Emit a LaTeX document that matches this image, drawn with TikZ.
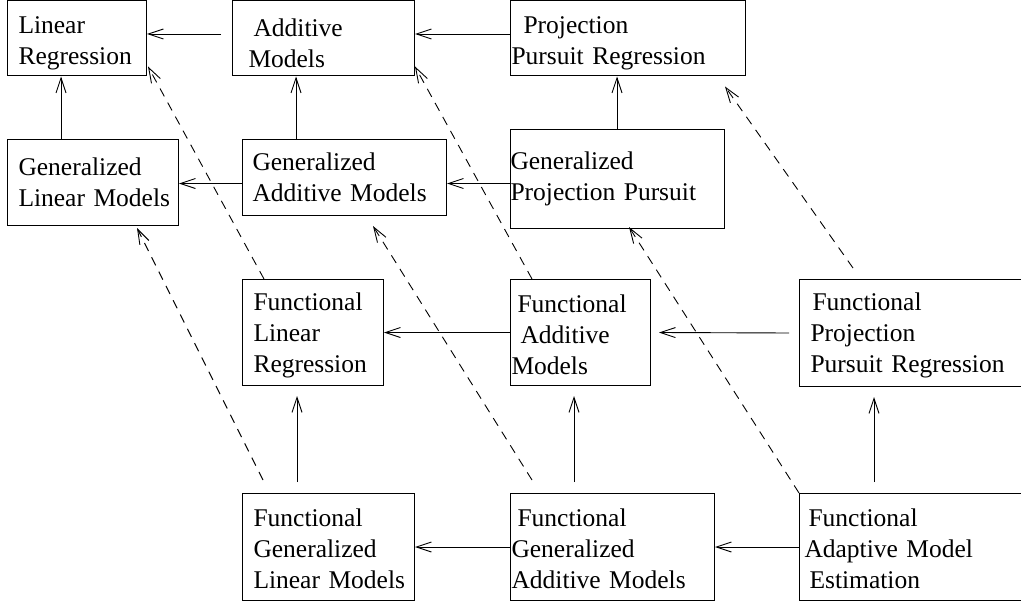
\documentclass[tikz,border=0pt]{standalone}
\usepackage{fontspec}
\setmainfont{Liberation Serif}
\usetikzlibrary{arrows.meta}
\tikzset{
  box/.style={draw, line width=1pt, anchor=north west, inner xsep=0pt, inner ysep=0pt,
    align=left, font=\fontsize{25.5}{31}\selectfont},
  arr/.style={line width=0.9pt, -{Straight Barb[length=15pt,width=10pt,line width=0.9pt]}},
  darr/.style={arr, dash pattern=on 9pt off 7pt}
}
\newcommand{\ind}[1]{\hspace*{#1pt}}
\newcommand{\tstr}[1]{\rule{0pt}{#1pt}}
\begin{document}
\begin{tikzpicture}[x=1pt,y=-1pt]
\clip (0,0) rectangle (1021,602);
% row 1
\node[box, minimum width=139, minimum height=75, text width=139] (LR) at (7,0.5)
  {\tstr{27}\ind{11}Linear\\\ind{11}Regression};
\node[box, minimum width=182, minimum height=75, text width=182] (AM) at (232,0.5)
  {\tstr{27}\ind{21}Additive\\\ind{16}Models};
\node[box, minimum width=235, minimum height=75, text width=235] (PPR) at (510,0.5)
  {\tstr{27}\ind{13}Projection\\\ind{1}Pursuit Regression};
% row 2
\node[box, minimum width=171, minimum height=86, text width=171] (GLM) at (7,139)
  {\ind{11}Generalized\\\ind{11}Linear Models};
\node[box, minimum width=204, minimum height=76, text width=204] (GAM) at (242,139)
  {\ind{10}Generalized\\\ind{10}Additive Models};
\node[box, minimum width=214, minimum height=99, text width=214] (GPP) at (510,129)
  {\ind{0}Generalized\\\ind{0}Projection Pursuit};
% row 3
\node[box, minimum width=141, minimum height=106, text width=141] (FLR) at (242,279)
  {\tstr{23}\ind{11}Functional\\\ind{11}Linear\\\ind{11}Regression};
\node[box, minimum width=140, minimum height=106, text width=140] (FAM) at (510,279)
  {\tstr{23}\ind{7}Functional\\\ind{10}Additive\\\ind{1}Models};
\node[box, minimum width=231, minimum height=107, text width=231] (FPPR) at (799,279)
  {\tstr{23}\ind{13}Functional\\\ind{11}Projection\\\ind{11}Pursuit Regression};
% row 4
\node[box, minimum width=172, minimum height=107, text width=172] (FGLM) at (242,493)
  {\tstr{21}\ind{11}Functional\\\ind{11}Generalized\\\ind{11}Linear Models};
\node[box, minimum width=204, minimum height=107, text width=204] (FGAM) at (510,493)
  {\tstr{21}\ind{7}Functional\\\ind{1}Generalized\\\ind{1}Additive Models};
\node[box, minimum width=231, minimum height=107, text width=231] (FAME) at (799,493)
  {\tstr{21}\ind{9}Functional\\\ind{5}Adaptive Model\\\ind{10}Estimation};
% horizontal solid arrows
\draw[arr] ([xshift=-11pt,yshift=4.5pt]AM.west) -- ([yshift=4.5pt]LR.east);
\draw[arr] ([yshift=4.5pt]PPR.west) -- ([yshift=4.5pt]AM.east);
\draw[arr] ([yshift=-6pt]GAM.west) -- ([yshift=-1pt]GLM.east);
\draw[arr] ([yshift=-4.5pt]GPP.west) -- ([yshift=-6pt]GAM.east);
\draw[arr] (FAM.west) -- (FLR.east);
\draw[arr] ([xshift=-10pt]FPPR.west) -- ([xshift=8pt]FAM.east);
\draw[arr] (FGAM.west) -- (FGLM.east);
\draw[arr] (FAME.west) -- (FGAM.east);
% vertical solid arrows
\draw[arr] ([xshift=54pt]GLM.north west) -- ([xshift=54pt]LR.south west);
\draw[arr] ([xshift=54pt]GAM.north west) -- ([xshift=64pt]AM.south west);
\draw[arr] ([xshift=107pt]GPP.north west) -- ([xshift=107pt]PPR.south west);
\draw[arr] ([xshift=55pt,yshift=11pt]FGLM.north west) -- ([xshift=55pt,yshift=-10pt]FLR.south west);
\draw[arr] ([xshift=64pt,yshift=11pt]FGAM.north west) -- ([xshift=64pt,yshift=-10pt]FAM.south west);
\draw[arr] ([xshift=75pt,yshift=11pt]FAME.north west) -- ([xshift=75pt,yshift=-10pt]FPPR.south west);
% dashed arrows
\draw[darr] ([xshift=22pt]FLR.north west) -- ([xshift=1pt,yshift=10pt]LR.south east);
\draw[darr] ([xshift=22pt]FAM.north west) -- ([yshift=10pt]AM.south east);
\draw[darr] ([xshift=54pt,yshift=11pt]FPPR.north west) -- ([xshift=-21pt,yshift=-10pt]PPR.south east);
\draw[darr] ([xshift=21pt,yshift=13pt]FGLM.north west) -- ([xshift=-42pt,yshift=-2pt]GLM.south east);
\draw[darr] ([xshift=22pt,yshift=13pt]FGAM.north west) -- ([xshift=-74pt,yshift=-10pt]GAM.south east);
\draw[darr] (FAME.north west) -- ([xshift=-96pt,yshift=2pt]GPP.south east);
\end{tikzpicture}
\end{document}
